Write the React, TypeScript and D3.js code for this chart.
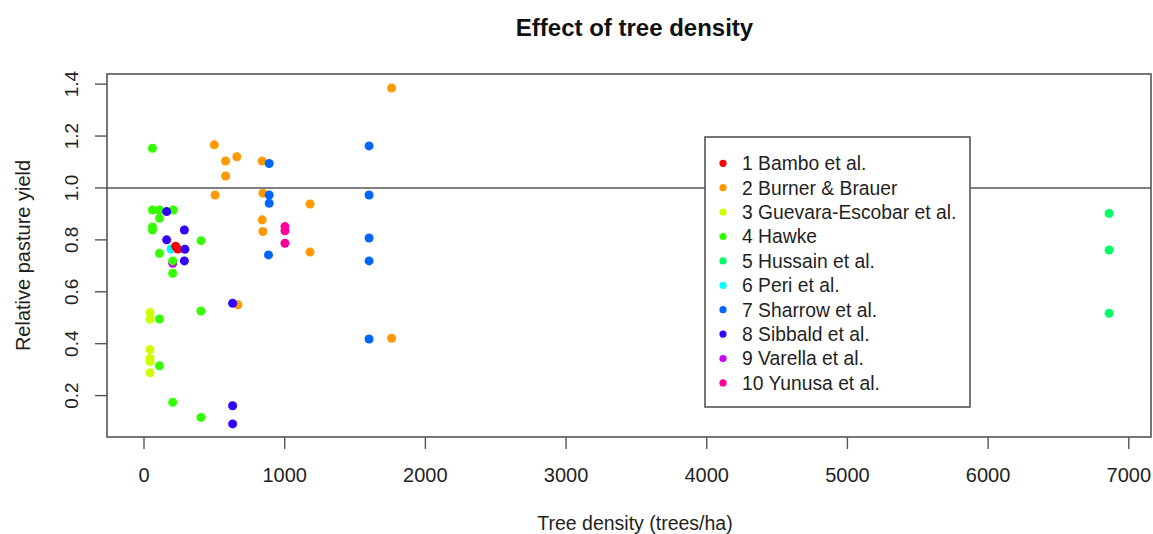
import React from 'react';
import * as d3 from 'd3';

// studies, in legend order
const studies = [
  '1 Bambo et al.',
  '2 Burner & Brauer',
  '3 Guevara-Escobar et al.',
  '4 Hawke',
  '5 Hussain et al.',
  '6 Peri et al.',
  '7 Sharrow et al.',
  '8 Sibbald et al.',
  '9 Varella et al.',
  '10 Yunusa et al.',
];

// R rainbow(10)
const colors = ['#FF0000', '#FF9900', '#CCFF00', '#33FF00', '#00FF66', '#00FFFF', '#0066FF', '#3300FF', '#CC00FF', '#FF0099'];

const bamboDensity = [225, 240];
const bamboYield = [0.775, 0.765];
const burnerDensity = [500, 580, 660, 580, 840, 505, 845, 840, 845, 668, 1180, 1180, 1760, 1760];
const burnerYield = [1.166, 1.104, 1.12, 1.046, 1.104, 0.973, 0.98, 0.877, 0.832, 0.55, 0.938, 0.753, 1.385, 0.421];
const guevaraDensity = [43, 43, 43, 43, 43, 43];
const guevaraYield = [0.52, 0.494, 0.378, 0.344, 0.331, 0.288];
const hawkeDensity = [60, 60, 110, 208, 110, 60, 60, 405, 110, 204, 204, 110, 405, 110, 204, 405];
const hawkeYield = [1.153, 0.915, 0.915, 0.915, 0.883, 0.85, 0.838, 0.797, 0.748, 0.719, 0.671, 0.495, 0.526, 0.315, 0.174, 0.116];
const hussainDensity = [6860, 6860, 6860];
const hussainYield = [0.902, 0.761, 0.517];
const periDensity = [192];
const periYield = [0.765];
const sharrowDensity = [890, 890, 890, 885, 1600, 1600, 1600, 1600, 1600];
const sharrowYield = [1.094, 0.973, 0.941, 0.742, 1.162, 0.973, 0.807, 0.719, 0.418];
const sibbaldDensity = [161, 287, 161, 291, 287, 630, 630, 630];
const sibbaldYield = [0.909, 0.838, 0.8, 0.764, 0.719, 0.556, 0.161, 0.091];
const varellaDensity = [204];
const varellaYield = [0.71];
const yunusaDensity = [1002, 1002, 1002];
const yunusaYield = [0.851, 0.835, 0.787];

const densities = [bamboDensity, burnerDensity, guevaraDensity, hawkeDensity, hussainDensity, periDensity, sharrowDensity, sibbaldDensity, varellaDensity, yunusaDensity];
const yields = [bamboYield, burnerYield, guevaraYield, hawkeYield, hussainYield, periYield, sharrowYield, sibbaldYield, varellaYield, yunusaYield];

const xTicks = [0, 1000, 2000, 3000, 4000, 5000, 6000, 7000];
const yTicks = [0.2, 0.4, 0.6, 0.8, 1.0, 1.2, 1.4];

// order the points were plotted in
const drawOrder = [5, 8, 0, 1, 2, 3, 4, 6, 7, 9];

const W = 1153;
const H = 534;
const font = '"Liberation Sans", Arial, sans-serif';
const ink = '#1f1f1f';

const App = () => {
  const left = 107, right = 1151, top = 74, bottom = 437;
  const x = d3.scaleLinear().domain([-263, 7165]).range([left, right + 1]);
  const y = d3.scaleLinear().domain([0.0405, 1.439]).range([bottom, top]);

  const legX = 705, legY = 137, legW = 265, legH = 270;

  return (
    <svg width={W} height={H} style={{ position: 'absolute', left: 0, top: 0, background: '#fff' }} fontFamily={font}>
      <rect width={W} height={H} fill="#fff" />
      <text x={634.5} y={36} textAnchor="middle" fontSize={24} fontWeight="bold" fill="#111">
        Effect of tree density
      </text>

      {/* reference line at 1 */}
      <line x1={left} x2={right} y1={y(1)} y2={y(1)} stroke="#555" strokeWidth={1.6} />

      {drawOrder.map(s =>
        densities[s].map((d, i) => (
          <circle key={`${s}-${i}`} cx={x(d)} cy={y(yields[s][i])} r={4.5} fill={colors[s]} />
        ))
      )}

      {/* plot box */}
      <rect x={left} y={top} width={right - left} height={bottom - top} fill="none" stroke="#555" strokeWidth={1.6} />

      {/* x axis */}
      <g>
        {xTicks.map(t => (
          <g key={t} transform={`translate(${x(t)},0)`}>
            <line y1={bottom} y2={bottom + 12} stroke="#555" strokeWidth={1.4} />
            <text y={482} textAnchor="middle" fontSize={20} fill={ink}>{t}</text>
          </g>
        ))}
        <text x={635} y={530} textAnchor="middle" fontSize={19.5} fill={ink}>
          Tree density (trees/ha)
        </text>
      </g>

      {/* y axis */}
      <g>
        {yTicks.map(t => (
          <g key={t} transform={`translate(0,${y(t)})`}>
            <line x1={left - 12} x2={left} stroke="#555" strokeWidth={1.4} />
            <text transform={`translate(78,0) rotate(-90)`} textAnchor="middle" fontSize={19} fill={ink}>
              {d3.format('.1f')(t)}
            </text>
          </g>
        ))}
        <text transform={`translate(30,${(top + bottom) / 2}) rotate(-90)`} textAnchor="middle" fontSize={20} fill={ink}>
          Relative pasture yield
        </text>
      </g>

      {/* legend */}
      <g>
        <rect x={legX} y={legY} width={legW} height={legH} fill="#fff" stroke="#555" strokeWidth={1.6} />
        {studies.map((name, i) => (
          <g key={name} transform={`translate(0,${163.3 + i * 24.4})`}>
            <circle cx={723} cy={0} r={3.6} fill={colors[i]} />
            <text x={742} y={0} dy="0.36em" fontSize={19.3} fill={ink}>{name}</text>
          </g>
        ))}
      </g>
    </svg>
  );
};

export default App;
